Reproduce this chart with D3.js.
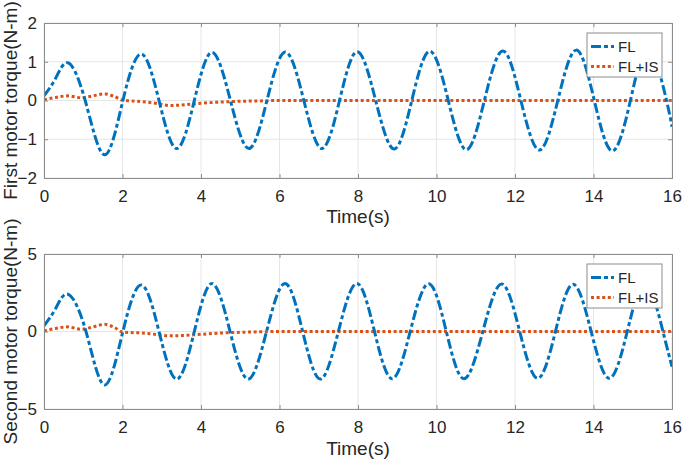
<!DOCTYPE html>
<html><head><meta charset="utf-8">
<script src="https://cdn.jsdelivr.net/npm/d3@7"></script>
<style>
body{margin:0;background:#fff;}
text{font-family:"Liberation Sans",Arial,sans-serif;fill:#262626;}
</style></head>
<body><svg id="c" width="685" height="463"></svg>
<script>
// ---------- data ----------
const xTicks = [0,2,4,6,8,10,12,14,16];
const yTicksTop = [-2,-1,0,1,2];
const yTicksBot = [-5,0,5];
const seriesNames = ["FL","FL+IS"];

// Top panel: FL (extrema / zero crossings)
const topFL_t = [0,0.3,0.62,1.05,1.54,2.01,2.48,2.93,3.38,3.83,4.28,4.75,5.22,5.68,6.15,6.62,7.08,7.53,7.98,8.45,8.92,9.37,9.83,10.3,10.76,11.22,11.69,12.15,12.62,13.09,13.56,14.02,14.48,14.94,15.4,15.86,16];
const topFL_v = [0.12,0.58,0.97,0,-1.40,0,1.20,0,-1.24,0,1.24,0,-1.24,0,1.25,0,-1.24,0,1.26,0,-1.25,0,1.27,0,-1.27,0,1.28,0,-1.28,0,1.30,0,-1.30,0,1.30,0,-0.68];
// Top panel: FL+IS
const topIS_t = [0,0.3,0.6,0.95,1.25,1.55,1.8,2.0,2.5,2.9,3.2,3.6,4.0,4.5,5.0,5.5,6,7,8,9,10,11,12,13,14,15,16];
const topIS_v = [0.02,0.08,0.12,0.07,0.12,0.17,0.10,0.01,-0.03,-0.08,-0.13,-0.11,-0.07,-0.04,-0.02,-0.01,0,0,0,0,0,0,0,0,0,0,0];

// Bottom panel: FL
const botFL_t = [0,0.3,0.62,1.07,1.54,2.01,2.48,2.93,3.38,3.83,4.28,4.74,5.2,5.67,6.14,6.59,7.04,7.5,7.97,8.42,8.87,9.33,9.8,10.25,10.7,11.18,11.66,12.12,12.58,13.03,13.48,13.94,14.4,14.86,15.32,15.77,16];
const botFL_v = [0.37,1.5,2.4,0,-3.45,0,3.0,0,-3.07,0,3.1,0,-3.07,0,3.1,0,-3.07,0,3.1,0,-3.05,0,3.08,0,-3.05,0,3.07,0,-3.02,0,3.05,0,-3.02,0,3.05,0,-2.27];
// Bottom panel: FL+IS
const botIS_t = [0,0.3,0.6,0.95,1.25,1.55,1.8,2.0,2.5,2.9,3.2,3.6,4.0,4.5,5.0,5.5,6,7,8,9,10,11,12,13,14,15,16];
const botIS_v = [0.03,0.2,0.3,0.14,0.3,0.46,0.25,-0.03,-0.1,-0.2,-0.28,-0.25,-0.18,-0.1,-0.05,-0.02,0,0,0,0,0,0,0,0,0,0,0];

// ---------- drawing ----------
const svg = d3.select("#c");
const C_FL = "#0072BD", C_IS = "#D95319";

function panel(cfg){
  const g = svg.append("g");
  const x = d3.scaleLinear().domain([0,16]).range([cfg.x0,cfg.x1]);
  const y = d3.scaleLinear().domain(cfg.ydom).range([cfg.y1,cfg.y0]);
  // grid
  g.append("g").selectAll("line").data(xTicks).join("line")
    .attr("x1",d=>x(d)).attr("x2",d=>x(d)).attr("y1",cfg.y0).attr("y2",cfg.y1)
    .attr("stroke","#e6e6e6").attr("stroke-width",1);
  g.append("g").selectAll("line").data(cfg.yticks).join("line")
    .attr("y1",d=>y(d)).attr("y2",d=>y(d)).attr("x1",cfg.x0).attr("x2",cfg.x1)
    .attr("stroke","#e6e6e6").attr("stroke-width",1);
  // clip
  const cid = "clip"+cfg.id;
  svg.append("clipPath").attr("id",cid).append("rect")
    .attr("x",cfg.x0).attr("y",cfg.y0).attr("width",cfg.x1-cfg.x0).attr("height",cfg.y1-cfg.y0);
  const line = d3.line().x(d=>x(d[0])).y(d=>y(d[1]));
  g.append("path").datum(d3.zip(cfg.isT,cfg.isV))
    .attr("d",line.curve(d3.curveMonotoneX)).attr("fill","none")
    .attr("stroke",C_IS).attr("stroke-width",3).attr("stroke-dasharray","3,2.6")
    .attr("clip-path",`url(#${cid})`);
  g.append("path").datum(d3.zip(cfg.flT,cfg.flV))
    .attr("d",line.curve(d3.curveNatural)).attr("fill","none")
    .attr("stroke",C_FL).attr("stroke-width",3).attr("stroke-dasharray","10,3,4,3")
    .attr("clip-path",`url(#${cid})`);
  // axes
  const ax = g.append("g").attr("transform",`translate(0,${cfg.y1})`)
    .call(d3.axisBottom(x).tickValues(xTicks).tickSize(-4).tickPadding(11.5).tickFormat(d3.format("d")));
  const axT = g.append("g").attr("transform",`translate(0,${cfg.y0})`)
    .call(d3.axisTop(x).tickValues(xTicks).tickSize(-4).tickFormat(""));
  const ay = g.append("g").attr("transform",`translate(${cfg.x0},0)`)
    .call(d3.axisLeft(y).tickValues(cfg.yticks).tickSize(-4).tickPadding(7).tickFormat(d3.format("d")));
  const ayR = g.append("g").attr("transform",`translate(${cfg.x1},0)`)
    .call(d3.axisRight(y).tickValues(cfg.yticks).tickSize(-4).tickFormat(""));
  [ax,axT,ay,ayR].forEach(a=>{
    a.select(".domain").attr("stroke","#8c8c8c").attr("stroke-width",1);
    a.selectAll(".tick line").attr("stroke","#8c8c8c");
    a.selectAll(".tick text").attr("font-size",17).attr("fill","#262626")
      .attr("font-family","Liberation Sans, Arial, sans-serif");
  });
  // labels
  g.append("text").attr("x",(cfg.x0+cfg.x1)/2).attr("y",cfg.xlabY)
    .attr("text-anchor","middle").attr("font-size",19).text("Time(s)");
  g.append("text").attr("transform",`translate(${cfg.ylabX},${(cfg.y0+cfg.y1)/2}) rotate(-90)`)
    .attr("text-anchor","middle").attr("font-size",19).text(cfg.ylab);
  // legend
  const lg = g.append("g");
  lg.append("rect").attr("x",587).attr("y",cfg.legY).attr("width",75).attr("height",44)
    .attr("fill","#fff").attr("stroke","#8c8c8c").attr("stroke-width",1);
  const items = [{n:seriesNames[0],c:C_FL,da:"10,3,4,3"},{n:seriesNames[1],c:C_IS,da:"3,2.6"}];
  items.forEach((it,i)=>{
    const yy = cfg.legY + 13.5 + i*20;
    lg.append("line").attr("x1",591).attr("x2",614).attr("y1",yy).attr("y2",yy)
      .attr("stroke",it.c).attr("stroke-width",3).attr("stroke-dasharray",it.da);
    lg.append("text").attr("x",618).attr("y",yy).attr("dy","0.36em")
      .attr("font-size",15).text(it.n);
  });
}

panel({id:1,x0:44,x1:672,y0:23,y1:178,ydom:[-2,2],yticks:yTicksTop,
  flT:topFL_t,flV:topFL_v,isT:topIS_t,isV:topIS_v,
  xlabY:223,ylabX:17,ylab:"First motor torque(N-m)",legY:33});
panel({id:2,x0:44,x1:672,y0:254,y1:409,ydom:[-5,5],yticks:yTicksBot,
  flT:botFL_t,flV:botFL_v,isT:botIS_t,isV:botIS_v,
  xlabY:455,ylabX:17,ylab:"Second motor torque(N-m)",legY:264});
</script></body></html>
